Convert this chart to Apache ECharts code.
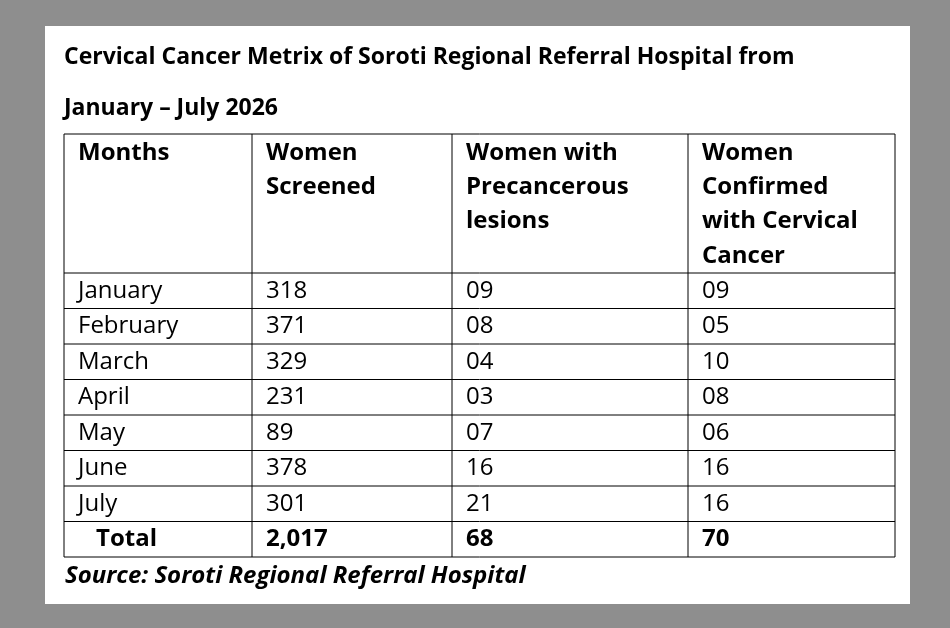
<!DOCTYPE html>
<html><head><meta charset="utf-8">
<script src="https://cdn.jsdelivr.net/npm/echarts@6/dist/echarts.min.js"></script>
<style>html,body{margin:0;padding:0;background:#8e8e8e}#c{width:950px;height:628px}</style>
</head><body><div id="c"></div>
<script>
const titleLines = ["Cervical Cancer Metrix of Soroti Regional Referral Hospital from", "January \u2013 July 2026"];
const headers = [["Months"], ["Women", "Screened"], ["Women with", "Precancerous", "lesions"], ["Women", "Confirmed", "with Cervical", "Cancer"]];
const months = ["January","February","March","April","May","June","July"];
const screened = ["318","371","329","231","89","378","301"];
const precancer = ["09","08","04","03","07","16","21"];
const confirmed = ["09","05","10","08","06","16","16"];
const totals = ["Total","2,017","68","70"];
const source = "Source: Soroti Regional Referral Hospital";

const colX = [64, 252, 452, 688, 895];
const headTop = 134, headBot = 273, rowH = 35.5;
const font = "'Open Sans', sans-serif";
const g = [];
g.push({type:'rect', shape:{x:45,y:26,width:865,height:578}, style:{fill:'#fff'}});
titleLines.forEach((t,i)=>g.push({type:'text', x:64, y:57+i*51, style:{text:t, font:"bold 23px "+font, fill:'#000', textVerticalAlign:'middle'}}));
const rows = months.map((m,i)=>[m,screened[i],precancer[i],confirmed[i]]);
const bottom = headBot + rowH*(rows.length+1);
const ls = {stroke:'#000', lineWidth:1};
[headTop, headBot].concat(rows.map((_,i)=>headBot+rowH*(i+1))).concat([bottom]).forEach(y=>{
  g.push({type:'line', shape:{x1:colX[0],y1:y,x2:colX[4],y2:y}, style:ls});
});
colX.forEach(x=>g.push({type:'line', shape:{x1:x,y1:headTop,x2:x,y2:bottom}, style:ls}));
headers.forEach((h,c)=>h.forEach((t,k)=>g.push({type:'text', x:colX[c]+14, y:153+k*34.3, style:{text:t, font:"bold 24px "+font, fill:'#000', textVerticalAlign:'middle'}})));
rows.forEach((r,i)=>r.forEach((t,c)=>g.push({type:'text', x:colX[c]+14, y:headBot+rowH*i+rowH/2, style:{text:t, font:"24px "+font, fill:'#000', textVerticalAlign:'middle'}})));
totals.forEach((t,c)=>g.push({type:'text', x:colX[c]+(c===0?32:14), y:headBot+rowH*rows.length+rowH/2, style:{text:t, font:"bold 24px "+font, fill:'#000', textVerticalAlign:'middle'}}));
g.push({type:'text', x:65, y:576, style:{text:source, font:"italic bold 24px "+font, fill:'#000', textVerticalAlign:'middle'}});
const chart = echarts.init(document.getElementById('c'));
chart.setOption({backgroundColor:'#8e8e8e', graphic:g});
</script></body></html>
